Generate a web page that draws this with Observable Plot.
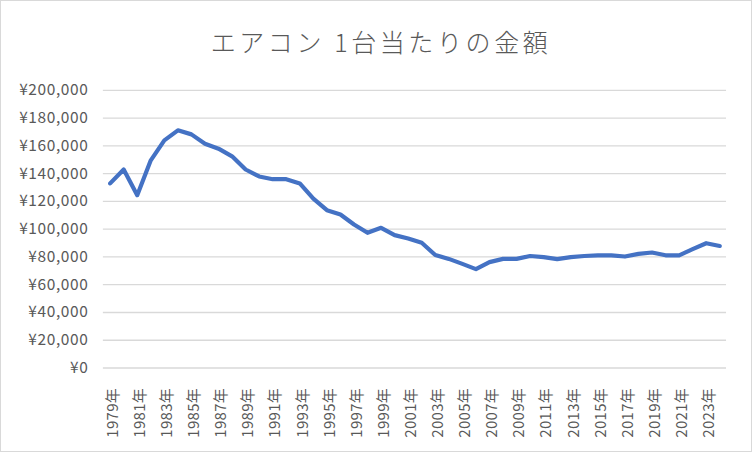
<!DOCTYPE html>
<html>
<head>
<meta charset="utf-8">
<script src="https://cdn.jsdelivr.net/npm/d3@7"></script>
<script src="https://cdn.jsdelivr.net/npm/@observablehq/plot@0.6"></script>
<style>
  html, body { margin: 0; padding: 0; background: #fff; }
  #wrap { position: relative; width: 750px; height: 450px; border: 1px solid #d9d9d9; overflow: hidden; background:#fff; }
  #title { position: absolute; left: 0; right: 0; top: 22px; text-align: center; font-family: "Noto Sans CJK JP", sans-serif; font-weight: 300; font-size: 25px; color: #595959; letter-spacing: 3.6px; padding-left: 10px; }
  #chart { position: absolute; left: -1px; top: -1px; }
  #chart svg g[aria-label="y-axis tick label"] { font-size: 15.5px; letter-spacing: 0.6px; }
  #chart svg g[aria-label="x-axis tick label"] { font-size: 15px; letter-spacing: 0.3px; }
</style>
</head>
<body>
<div id="wrap"><div id="title">エアコン 1台当たりの金額</div><div id="chart"></div></div>
<script>
const years = d3.range(1979, 2025);
const values = [
  133000, 143000, 124500, 149600, 164000, 171200, 168300, 161600, 158000, 152500,
  143000, 138000, 136000, 136000, 133000, 122000, 113700, 110600, 103400, 97400,
  101000, 95700, 93300, 90200, 81400, 78600, 75000, 71200, 76300, 78600,
  78600, 80700, 79900, 78400, 79900, 80700, 81200, 81200, 80300, 82200,
  83200, 81200, 81200, 85600, 89900, 87900
];
const yTicks = d3.range(0, 200001, 20000);
const xTickYears = years.filter(y => y % 2 === 1);

const data = years.map((y, i) => ({year: y, value: values[i]}));

const chart = Plot.plot({
  width: 752,
  height: 452,
  marginTop: 90,
  marginBottom: 84,
  marginLeft: 103,
  marginRight: 25,
  style: {fontFamily: "'Noto Sans CJK JP', sans-serif", fontSize: "14px", color: "#595959", background: "transparent"},
  x: {type: "linear", domain: [years[0] - 0.5, years[years.length - 1] + 0.5], label: null},
  y: {domain: [0, 200000], label: null},
  marks: [
    Plot.ruleY(yTicks, {stroke: "#d9d9d9", strokeWidth: 1.3}),
    Plot.axisY({ticks: yTicks, tickSize: 0, tickPadding: 15, tickFormat: d => "¥" + d3.format(",")(d), fill: "#595959"}),
    Plot.axisX({ticks: xTickYears, tickSize: 0, tickRotate: -90, tickPadding: 20, tickFormat: d => d + "年", fill: "#595959", dx: 3}),
    Plot.line(data, {x: "year", y: "value", stroke: "#4472C4", strokeWidth: 4.2, strokeLinejoin: "round", strokeLinecap: "round"})
  ]
});
document.getElementById("chart").appendChild(chart);
</script>
</body>
</html>
